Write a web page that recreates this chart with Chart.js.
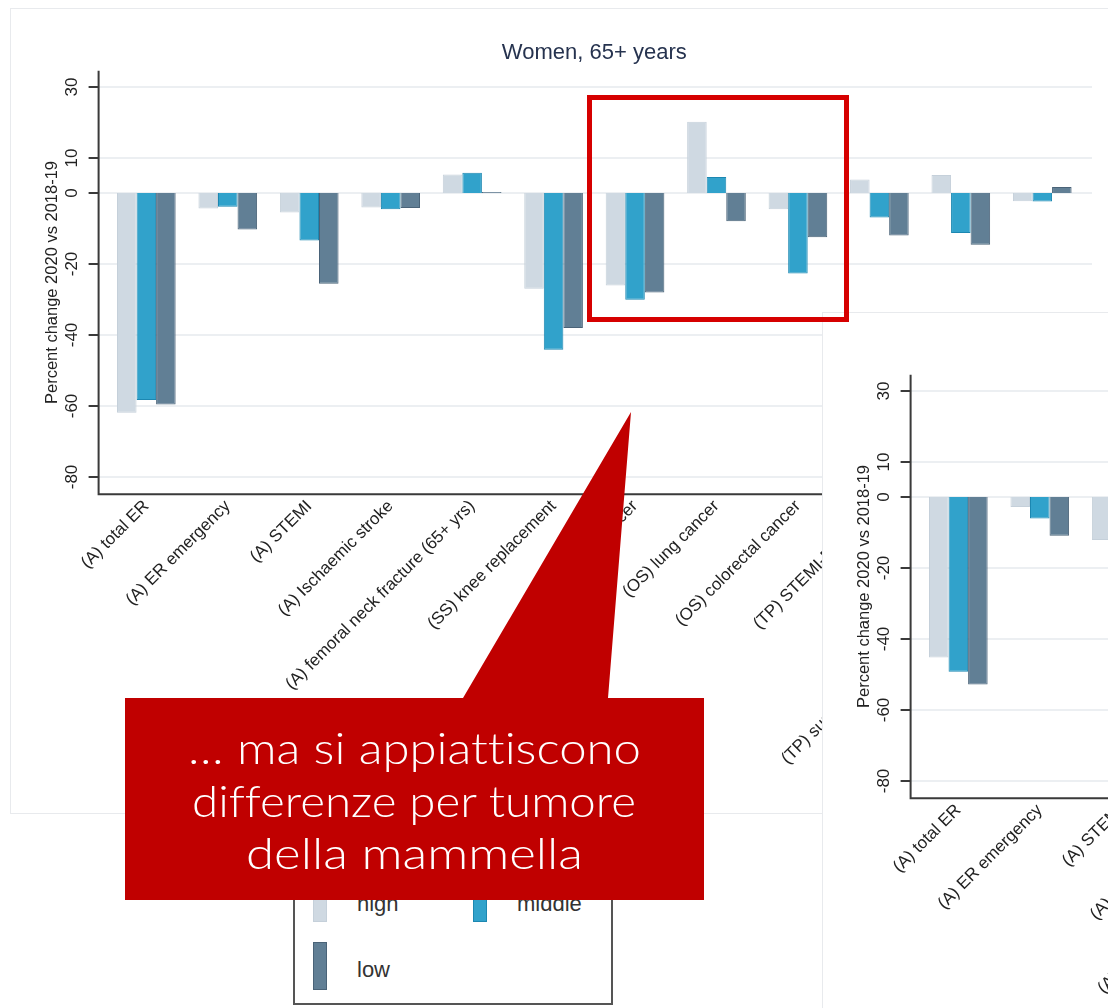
<!DOCTYPE html>
<html>
<head>
<meta charset="utf-8">
<script src="https://cdn.jsdelivr.net/npm/chart.js@4.4.1/dist/chart.umd.min.js"></script>
<style>
html,body{margin:0;padding:0;width:1108px;height:1008px;overflow:hidden;background:#fff;}
.panel{position:absolute;background:#fff;box-sizing:border-box;}
#p1{left:10px;top:8px;width:1100px;height:806px;border:1px solid #e8eaed;}
#p2{left:822px;top:312px;width:1100px;height:806px;border-left:1px solid #e8eaed;border-top:1px solid #e8eaed;}
.panel canvas{position:absolute;left:0;top:0;}
#legend{position:absolute;left:293px;top:856px;width:320px;height:149px;box-sizing:border-box;border:2px solid #555;background:#fff;font-family:"Liberation Sans",Arial,sans-serif;font-size:22px;color:#333;}
.sw{position:absolute;box-sizing:border-box;}
.lt{position:absolute;line-height:24px;}
#overlay{position:absolute;left:0;top:0;}
#overlay text{font-variant-ligatures:none;font-feature-settings:"liga" 0;}
</style>
</head>
<body>
<div class="panel" id="p1"><canvas id="c1" width="1100" height="805"></canvas></div>
<div class="panel" id="p2"><canvas id="c2" width="1100" height="805"></canvas></div>
<div id="legend"></div>
<svg id="overlay" width="1108" height="1008" xmlns="http://www.w3.org/2000/svg">
  <rect x="589.5" y="97.5" width="257" height="222" fill="none" stroke="#d60000" stroke-width="5"/>
  <polygon points="125,698 463,698 631,412 608,698 704,698 704,900 125,900" fill="#c00000"/>
  <g font-family="Lato, 'Noto Sans', sans-serif" font-weight="300" font-size="43" fill="#ffffff">
    <text x="188" y="764" textLength="453" lengthAdjust="spacingAndGlyphs">… ma si appiattiscono</text>
    <text x="192" y="817" textLength="444" lengthAdjust="spacingAndGlyphs">differenze per tumore</text>
    <text x="246" y="869" textLength="337" lengthAdjust="spacingAndGlyphs">della mammella</text>
  </g>
</svg>
<script>
// ---- data ----
const categories = [
  "(A) total ER",
  "(A) ER emergency",
  "(A) STEMI",
  "(A) Ischaemic stroke",
  "(A) femoral neck fracture (65+ yrs)",
  "(SS) knee replacement",
  "(OS) breast cancer",
  "(OS) lung cancer",
  "(OS) colorectal cancer",
  "(TP) STEMI-PTCA 48h",
  "(TP) cholecystectomy",
  "(TP) surgery within 48h for femoral neck fracture"
];
const seriesNames = ["high", "middle", "low"];
const yTickValues = [30, 10, 0, -20, -40, -60, -80];

// Panel 1: Women, 65+ years
const womenHigh   = [-62.0, -4.4,  -5.5, -4.1, 5.2, -27.0, -26.1, 20.1,  -4.6,   3.8,   5.1, -2.3];
const womenMiddle = [-58.4, -3.9, -13.4, -4.6, 5.7, -44.2, -30.1,  4.5, -22.7,  -6.9, -11.3, -2.4];
const womenLow    = [-59.7, -10.3, -25.6, -4.2, 0.3, -38.1, -28.1, -8.0, -12.5, -12.0, -14.6,  1.7];

// Panel 2 (partly visible, overlapping): only the visible bars
const panel2High   = [-45.3, -2.8, -12.1, null, null, null, null, null, null, null, null, null];
const panel2Middle = [-49.3, -6.1, null, null, null, null, null, null, null, null, null, null];
const panel2Low    = [-52.9, -10.9, null, null, null, null, null, null, null, null, null, null];

const seriesColors = {
  high:   {fill: "#cfd9e2", border: "#c5d0da"},
  middle: {fill: "#31a2cb", border: "#1c87b1"},
  low:    {fill: "#617f95", border: "#4a6378"}
};

// ---- frame / axes plugin (Stata-like) ----
const stataFrame = {
  id: "stataFrame",
  beforeDatasetsDraw(chart) {
    const {ctx, chartArea: a, scales: {y}} = chart;
    const axisX = a.left - 7, right = a.right + 9;
    ctx.save();
    ctx.strokeStyle = "#eceff2";
    ctx.lineWidth = 2;
    yTickValues.forEach(v => {
      const py = Math.round(y.getPixelForValue(v));
      ctx.beginPath(); ctx.moveTo(axisX, py); ctx.lineTo(right, py); ctx.stroke();
    });
    ctx.restore();
  },
  afterDraw(chart, args, opts) {
    const {ctx, chartArea: a, scales: {y}} = chart;
    const axisX = a.left - 7, right = a.right + 9;
    ctx.save();
    ctx.strokeStyle = "#3a3a3a";
    ctx.lineWidth = 2;
    ctx.beginPath();
    ctx.moveTo(axisX, a.top); ctx.lineTo(axisX, a.bottom + 1);
    ctx.moveTo(axisX - 1, a.bottom); ctx.lineTo(right, a.bottom);
    ctx.stroke();
    ctx.fillStyle = "#222";
    ctx.font = "17px 'Liberation Sans', Arial, sans-serif";
    ctx.textAlign = "center";
    ctx.textBaseline = "middle";
    yTickValues.forEach(v => {
      const py = Math.round(y.getPixelForValue(v));
      ctx.beginPath(); ctx.moveTo(axisX - 10, py); ctx.lineTo(axisX, py); ctx.stroke();
      ctx.save();
      ctx.translate(axisX - 26, py);
      ctx.rotate(-Math.PI / 2);
      ctx.fillText(String(v), 0, 0);
      ctx.restore();
    });
    // y title
    ctx.font = "16.5px 'Liberation Sans', Arial, sans-serif";
    ctx.save();
    ctx.translate(axisX - 46, (a.top + a.bottom) / 2);
    ctx.rotate(-Math.PI / 2);
    ctx.fillText("Percent change 2020 vs 2018-19", 0, 0);
    ctx.restore();
    // chart title
    ctx.fillStyle = "#26334f";
    ctx.font = "22px 'Liberation Sans', Arial, sans-serif";
    ctx.fillText(opts.title || "", (a.left + a.right) / 2, 44);
    ctx.restore();
  }
};

function makeChart(id, title, high, middle, low) {
  const vals = [high, middle, low];
  return new Chart(document.getElementById(id), {
    type: "bar",
    data: {
      labels: categories,
      datasets: seriesNames.map((name, i) => ({
        label: name,
        data: vals[i],
        backgroundColor: seriesColors[name].fill,
        borderColor: seriesColors[name].border,
        borderWidth: 1,
        categoryPercentage: 0.72,
        barPercentage: 1.0
      }))
    },
    options: {
      responsive: false,
      animation: false,
      devicePixelRatio: 1,
      layout: {padding: {left: 94.6, right: 28, top: 61.7, bottom: 0}},
      plugins: {
        legend: {display: false},
        tooltip: {enabled: false},
        stataFrame: {title: title}
      },
      scales: {
        x: {
          offset: true,
          grid: {display: false, drawTicks: false},
          border: {display: false},
          ticks: {
            autoSkip: false, minRotation: 45, maxRotation: 45, padding: 2,
            color: "#222",
            font: {family: "'Liberation Sans', Arial, sans-serif", size: 17}
          },
          afterFit(s) { s.height = 319.7; }
        },
        y: {display: false, min: -85, max: 34.5}
      }
    },
    plugins: [stataFrame]
  });
}

makeChart("c1", "Women, 65+ years", womenHigh, womenMiddle, womenLow);
makeChart("c2", "Men, 65+ years", panel2High, panel2Middle, panel2Low);

// ---- legend (separate box, partly covered by the callout) ----
const legendItems = [
  {name: "high",   sx: 18,  sy: 16, tx: 62,  ty: 34},
  {name: "middle", sx: 178, sy: 16, tx: 222, ty: 34},
  {name: "low",    sx: 18,  sy: 84, tx: 62,  ty: 100}
];
const lg = document.getElementById("legend");
legendItems.forEach(it => {
  const sw = document.createElement("div");
  sw.className = "sw";
  sw.style.left = it.sx + "px"; sw.style.top = it.sy + "px";
  sw.style.width = "14px"; sw.style.height = "48px";
  sw.style.background = seriesColors[it.name].fill;
  sw.style.border = "1px solid " + seriesColors[it.name].border;
  lg.appendChild(sw);
  const t = document.createElement("div");
  t.className = "lt";
  t.style.left = it.tx + "px"; t.style.top = it.ty + "px";
  t.textContent = it.name;
  lg.appendChild(t);
});
</script>
</body>
</html>
